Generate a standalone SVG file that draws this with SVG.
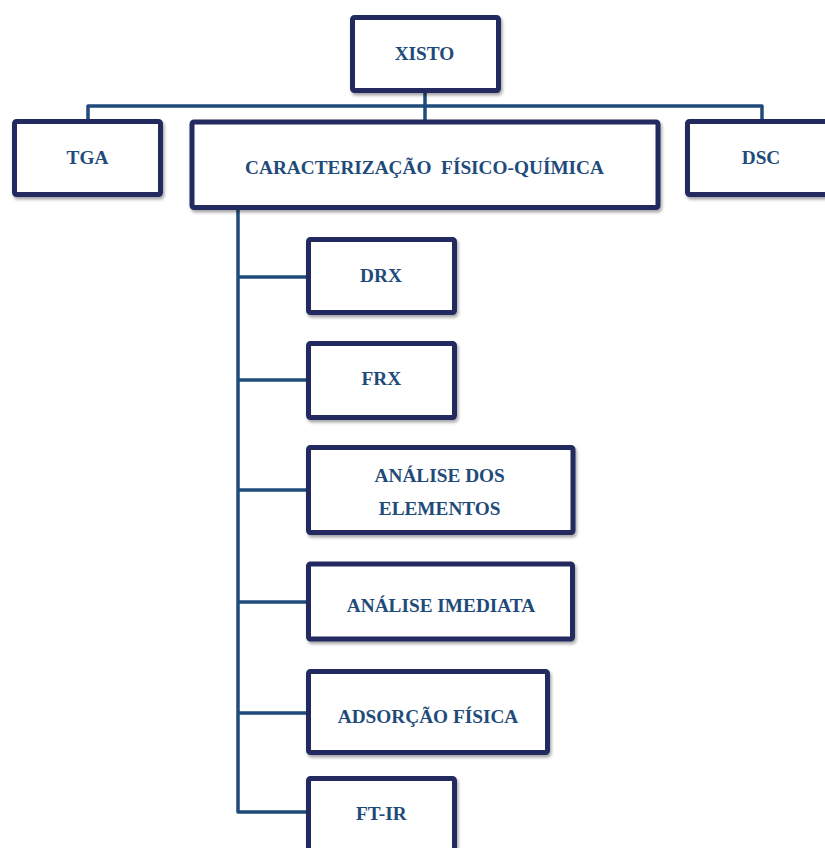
<svg xmlns="http://www.w3.org/2000/svg" width="825" height="848" viewBox="0 0 825 848">
<defs>
<filter id="sh" x="-10%" y="-10%" width="120%" height="130%">
<feDropShadow dx="1.5" dy="2.5" stdDeviation="1.5" flood-color="#000" flood-opacity="0.35"/>
</filter>
</defs>
<style>
.box{fill:#ffffff;stroke:#212a5e;stroke-width:5;filter:url(#sh)}
.lbl{font-family:"Liberation Serif","Times New Roman",serif;font-weight:bold;font-size:19.3px;fill:#1f4b7a;text-anchor:middle}
.con{fill:none;stroke:#1f4b7a;stroke-width:3.5;stroke-linejoin:round;stroke-linecap:butt}
</style>
<rect width="825" height="848" fill="#ffffff"/>
<g id="connectors">
<path class="con" d="M425 92 V120"/>
<path class="con" d="M88 120 V106 H762 V120"/>
<path class="con" d="M238 209 V812 H307"/>
<path class="con" d="M238 277 H307"/>
<path class="con" d="M238 380 H307"/>
<path class="con" d="M238 490 H307"/>
<path class="con" d="M238 602 H307"/>
<path class="con" d="M238 713 H307"/>
</g>
<g id="xisto"><rect class="box" x="352.5" y="17.5" width="146" height="73" rx="2"/><text class="lbl" x="424.5" y="60">XISTO</text></g>
<g id="tga"><rect class="box" x="14.5" y="121.5" width="146" height="73" rx="2"/><text class="lbl" x="87.5" y="163.5">TGA</text></g>
<g id="dsc"><rect class="box" x="687.5" y="121.5" width="142" height="73" rx="2"/><text class="lbl" x="761" y="163.5">DSC</text></g>
<g id="caracterizacao"><rect class="box" x="192" y="122" width="466" height="85.5" rx="2"/><text class="lbl" x="424.5" y="173.5" xml:space="preserve">CARACTERIZAÇÃO  FÍSICO-QUÍMICA</text></g>
<g id="drx"><rect class="box" x="308.5" y="239.5" width="146" height="73" rx="2"/><text class="lbl" x="381" y="282">DRX</text></g>
<g id="frx"><rect class="box" x="308.5" y="343.5" width="146" height="74" rx="2"/><text class="lbl" x="381.3" y="385">FRX</text></g>
<g id="analise-elementos"><rect class="box" x="308.5" y="447.5" width="264.5" height="85" rx="2"/><text class="lbl" x="439.7" y="482">ANÁLISE DOS</text><text class="lbl" x="439.7" y="515">ELEMENTOS</text></g>
<g id="analise-imediata"><rect class="box" x="308.5" y="564" width="264" height="75" rx="2"/><text class="lbl" x="441" y="612">ANÁLISE IMEDIATA</text></g>
<g id="adsorcao"><rect class="box" x="308.5" y="671.5" width="239" height="81" rx="2"/><text class="lbl" x="428" y="723">ADSORÇÃO FÍSICA</text></g>
<g id="ftir"><rect class="box" x="308.5" y="778.5" width="146" height="100" rx="2"/><text class="lbl" x="381.3" y="820">FT-IR</text></g>
</svg>
